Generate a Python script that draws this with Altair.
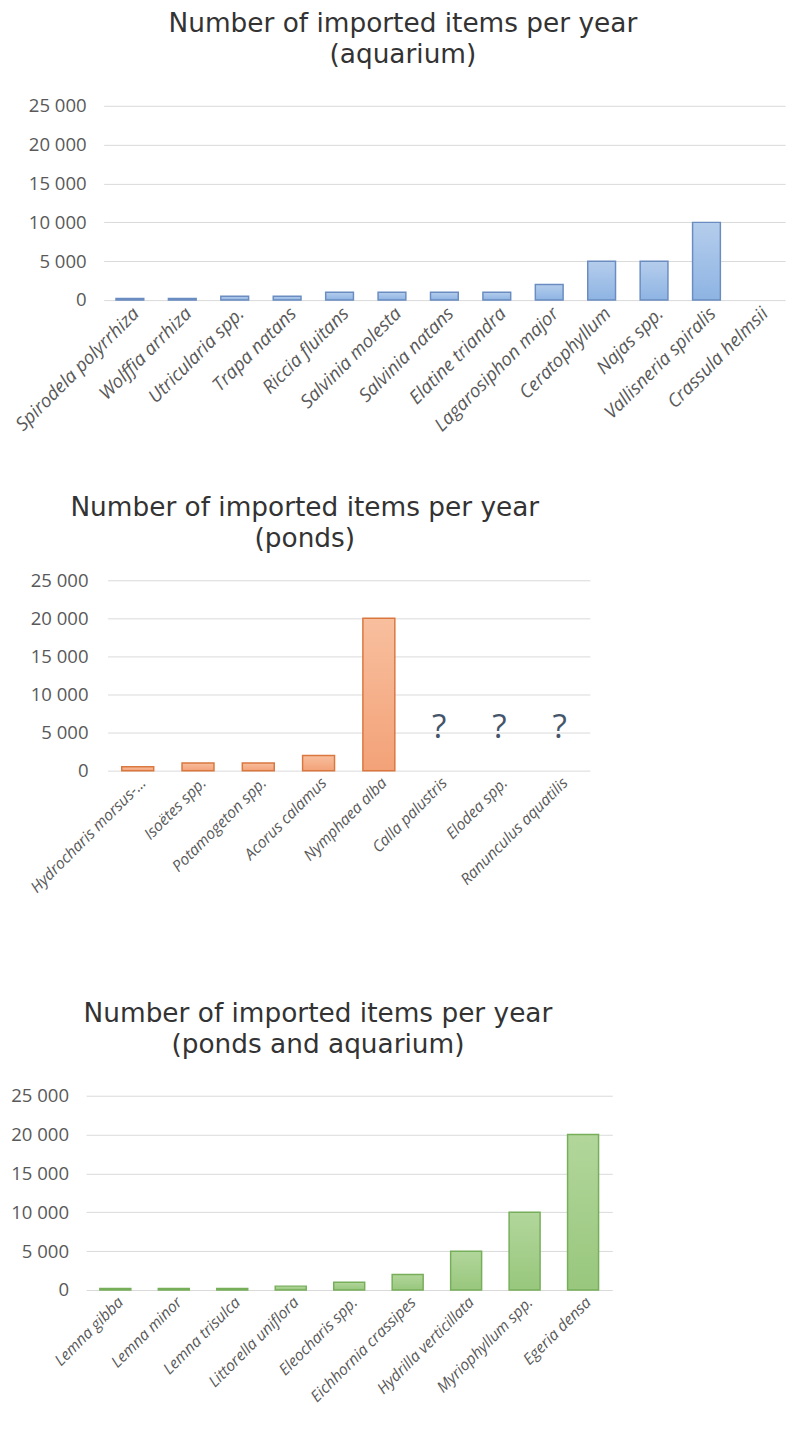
import altair as alt
import pandas as pd

# ---------------- data ----------------
aq_species = ["Spirodela polyrrhiza", "Wolffia arrhiza", "Utricularia spp.", "Trapa natans",
              "Riccia fluitans", "Salvinia molesta", "Salvinia natans", "Elatine triandra",
              "Lagarosiphon major", "Ceratophyllum", "Najas spp.", "Vallisneria spiralis",
              "Crassula helmsii"]
aq_values = [200, 200, 500, 500, 1000, 1000, 1000, 1000, 2000, 5000, 5000, 10000, None]

pond_species = ["Hydrocharis morsus-...", "Isoëtes spp.", "Potamogeton spp.", "Acorus calamus",
                "Nymphaea alba", "Calla palustris", "Elodea spp.", "Ranunculus aquatilis"]
pond_values = [500, 1000, 1000, 2000, 20000, None, None, None]
unknown_species = ["Calla palustris", "Elodea spp.", "Ranunculus aquatilis"]
unknown_pos = [5600, 5600, 5600]

both_species = ["Lemna gibba", "Lemna minor", "Lemna trisulca", "Littorella uniflora",
                "Eleocharis spp.", "Eichhornia crassipes", "Hydrilla verticillata",
                "Myriophyllum spp.", "Egeria densa"]
both_values = [200, 200, 200, 500, 1000, 2000, 5000, 10000, 20000]

y_ticks = [0, 5000, 10000, 15000, 20000, 25000]

FONT = "Open Sans"
TITLE_FONT = "DejaVu Sans"
LABEL_COLOR = "#595959"
TITLE_COLOR = "#333333"


def y_enc(field, label_pad, extent, axis_offset):
    return alt.Y(field, scale=alt.Scale(domain=[0, 25000], nice=False),
                 axis=alt.Axis(title=None, values=y_ticks,
                               labelExpr="replace(format(datum.value, ','), ',', ' ')",
                               labelFont=FONT, labelFontSize=19, labelColor=LABEL_COLOR,
                               ticks=False, domain=False, grid=True, gridColor="#D9D9D9",
                               gridWidth=1, labelOverlap=False, labelPadding=label_pad,
                               minExtent=extent, offset=axis_offset))


def panel(cats, vals, title_lines, width, height, extent, label_pad, axis_offset,
          fill_top, fill_bottom, stroke, title_offset, title_dx, xfont,
          x_range=None, extra_df=None):
    df = pd.DataFrame({"species": cats, "items": vals})
    scale_args = dict(domain=cats, paddingInner=0.47, paddingOuter=0.235)
    if x_range is not None:
        scale_args["range"] = x_range
    x = alt.X("species:N", sort=cats, scale=alt.Scale(**scale_args),
              axis=alt.Axis(title=None, labelAngle=-45, labelAlign="right", labelBaseline="top",
                            labelFont=FONT, labelFontStyle="italic", labelFontSize=xfont,
                            labelColor=LABEL_COLOR, ticks=False, domain=False, grid=False,
                            labelLimit=400, labelPadding=4, labelOverlap=False))
    grad = alt.Gradient(gradient="linear",
                        stops=[alt.GradientStop(color=fill_top, offset=0),
                               alt.GradientStop(color=fill_bottom, offset=1)],
                        x1=0, x2=0, y1=0, y2=1)
    bars = alt.Chart(df).mark_bar(fill=grad, stroke=stroke, strokeWidth=1.5).encode(
        x=x, y=y_enc("items:Q", label_pad, extent, axis_offset))
    layers = [bars]
    if extra_df is not None:
        q = alt.Chart(extra_df).mark_text(text="?", font=FONT, fontSize=34, color="#44546A",
                                          baseline="middle").encode(
            x=x, y=y_enc("pos:Q", label_pad, extent, axis_offset))
        layers.append(q)
    return alt.layer(*layers).properties(
        width=width, height=height,
        title=alt.TitleParams(title_lines, font=TITLE_FONT, fontSize=27, fontWeight="normal",
                              color=TITLE_COLOR, lineHeight=32, offset=title_offset,
                              baseline="top", anchor="middle", dx=title_dx))


q_df = pd.DataFrame({"species": unknown_species, "pos": unknown_pos})

top = panel(aq_species, aq_values, ["Number of imported items per year", "(aquarium)"],
            691, 199, 98, 18, 4, "#B5CDEC", "#8EB4E3", "#6A8CC0", 29, -43, 19,
            x_range=[-4, 694])
mid = panel(pond_species, pond_values, ["Number of imported items per year", "(ponds)"],
            494, 195, 102, 20, 0, "#F8BF9E", "#F3A278", "#D9773F", 19, -45, 16, extra_df=q_df)
bot = panel(both_species, both_values, ["Number of imported items per year", "(ponds and aquarium)"],
            539, 199, 80, 18, 22, "#B2D69B", "#98C77D", "#77AE5A", 29, -54, 16,
            x_range=[-22, 517])

inner = alt.concat(top, mid, columns=1, spacing=61)
chart = alt.concat(inner, bot, columns=1, spacing=107).properties(
    padding={"left": 0, "top": -15, "right": 0, "bottom": 0}, background="white"
).configure_view(stroke=None)

chart.save("out.html", embed_options={"renderer": "svg", "actions": False})
